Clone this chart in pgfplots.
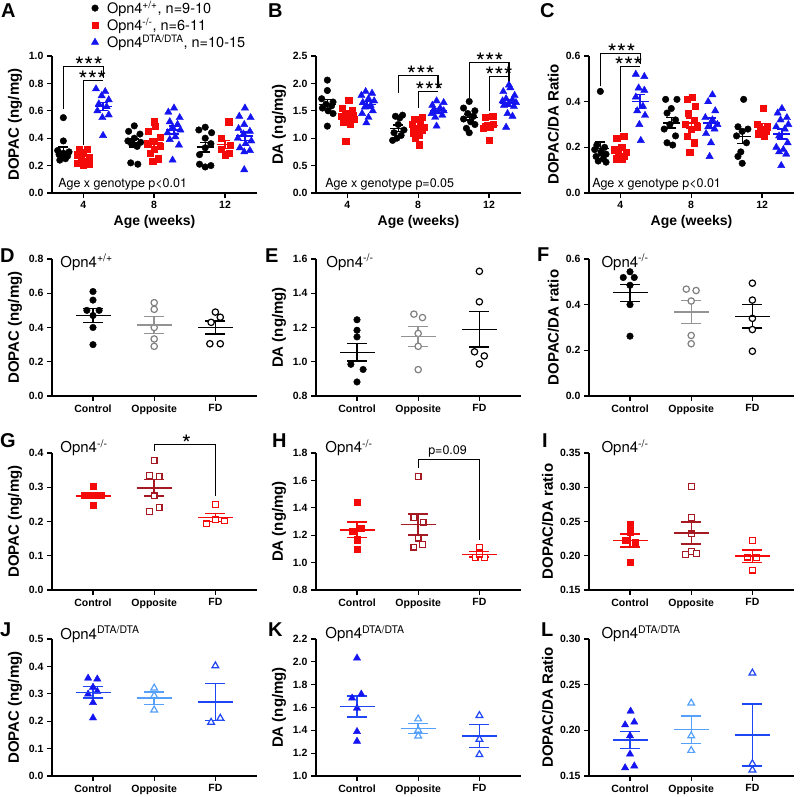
\documentclass[border=0pt]{standalone}
\usepackage{fontspec}
\setmainfont{Liberation Sans}
\newfontfamily\rf{TeX Gyre Heros}
\usepackage{pgfplots}
\pgfplotsset{compat=1.18}
\definecolor{cred}{RGB}{245,10,10}
\definecolor{cblue}{RGB}{20,20,240}
\definecolor{cdred}{RGB}{165,25,35}
\definecolor{clblue}{RGB}{85,160,250}
\definecolor{cgray}{RGB}{128,128,128}
\definecolor{cmblue}{RGB}{30,70,245}
\pgfplotsset{
 base/.style={scale only axis, width=205pt, height=137pt, anchor=south west, clip=false,
  axis x line*=bottom, axis y line*=left,
  axis line style={line width=1.3pt},
  tick style={line width=1.3pt, black},
  major tick length=5pt, tick align=outside,
  tick label style={font=\bfseries\fontsize{10.5}{12}\selectfont},
  ylabel style={font=\bfseries\fontsize{15}{17}\selectfont},
  xlabel style={font=\bfseries\fontsize{14}{16}\selectfont},
  /pgf/number format/assume math mode=true,
  scaled y ticks=false,
  yticklabel style={/pgf/number format/fixed, /pgf/number format/fixed zerofill, /pgf/number format/precision=1},
 },
 ageax/.style={base, xmin=-0.44, xmax=2.45, xtick={0,1,2}, xticklabels={\textbf{4},\textbf{8},\textbf{12}}, xlabel={Age (weeks)}},
 trtax/.style={base, xmin=-0.67, xmax=2.68, xtick={0,1,2}, xticklabels={\textbf{Control},\textbf{Opposite},\textbf{FD}}},
 msA/.style={forget plot, color=#1, only marks, mark=-, mark size=8.5pt, mark options={line width=1.3pt, #1}, error bars/.cd, y dir=both, y explicit, error bar style={line width=1.3pt, #1}, error mark options={rotate=90, mark size=5pt, line width=1.3pt, #1}},
 msD/.style={forget plot, color=#1, only marks, mark=-, mark size=17.5pt, mark options={line width=1.4pt, #1}, error bars/.cd, y dir=both, y explicit, error bar style={line width=1.4pt, #1}, error mark options={rotate=90, mark size=10pt, line width=1.4pt, #1}},
 bk/.style={only marks, mark=*, mark size=3.3pt, black, mark options={draw=black, fill=black}},
 rd/.style={only marks, mark=square*, mark size=3.1pt, cred, mark options={draw=cred, fill=cred}},
 bl/.style={only marks, mark=triangle*, mark size=4.2pt, cblue, mark options={draw=cblue, fill=cblue}},
 opc/.style={only marks, mark=*, mark size=3.2pt, #1, mark options={draw=#1, fill=white, line width=1.2pt}},
 ops/.style={only marks, mark=square*, mark size=2.9pt, #1, mark options={draw=#1, fill=white, line width=1.2pt}},
 opt/.style={only marks, mark=triangle*, mark size=3.9pt, #1, mark options={draw=#1, fill=white, line width=1.2pt}},
}
\newcommand{\stars}[3]{\node[anchor=base, font=\rf\fontsize{24}{24}\selectfont, inner sep=0, yshift=-8pt] at (axis cs:#1,#2) {#3};}
\newcommand{\lgf}{\rf\fontsize{14.5}{16.5}\selectfont}
\newcommand{\ttl}[3]{\node[anchor=base west, font=\rf\fontsize{15}{17}\selectfont, inner sep=0] at (rel axis cs:#1,#2) {#3};}
\newcommand{\agx}[2]{\node[anchor=west, font=\rf\fontsize{12.5}{14}\selectfont, inner sep=0] at (rel axis cs:#1,0.065) {#2};}
\begin{document}
\begin{tikzpicture}
\path[use as bounding box] (0,0) rectangle (800pt,797pt);
\tikzset{plab/.style={anchor=base west, font=\bfseries\fontsize{20}{20}\selectfont, inner sep=0}}
\node[plab] at (1pt,779pt) {A};
\node[plab] at (268pt,779pt) {B};
\node[plab] at (540pt,779pt) {C};
\node[plab] at (0pt,534pt) {D};
\node[plab] at (265pt,534pt) {E};
\node[plab] at (537pt,535pt) {F};
\node[plab] at (0pt,349pt) {G};
\node[plab] at (272pt,349pt) {H};
\node[plab] at (542pt,349pt) {I};
\node[plab] at (0pt,160pt) {J};
\node[plab] at (268pt,160pt) {K};
\node[plab] at (541pt,160pt) {L};

% ---------------- A
\begin{axis}[ageax, at={(52pt,604pt)}, ymin=0, ymax=1.0, ytick={0,0.2,0.4,0.6,0.8,1.0}, ylabel={DOPAC (ng/mg)},
 legend style={at={(0.165,1.41)}, anchor=north west, draw=none, fill=none, inner sep=0pt, row sep=1pt, font=\lgf, nodes={inner sep=1pt}},
 legend cell align=left,
 legend image code/.code={\path[draw=none,fill=none] (0pt,-3pt) rectangle (20pt,3pt); \draw[#1] plot coordinates {(9pt,0pt)};}]
\addplot[bk] coordinates {(-0.28,0.55) (-0.28,0.38) (-0.36,0.31) (-0.20,0.30) (-0.28,0.29) (-0.34,0.28) (-0.22,0.27) (-0.30,0.26) (-0.25,0.25) (-0.33,0.24)
 (0.72,0.49) (0.64,0.45) (0.80,0.43) (0.72,0.40) (0.63,0.38) (0.81,0.37) (0.68,0.36) (0.76,0.34) (0.67,0.22) (0.77,0.21)
 (1.72,0.48) (1.63,0.46) (1.81,0.44) (1.72,0.40) (1.80,0.36) (1.72,0.33) (1.64,0.28) (1.64,0.21) (1.80,0.20) (1.72,0.19)};
\addlegendentry{\lgf Opn4\textsuperscript{+/+}, n=9-10}
\addplot[rd] coordinates {(-0.06,0.32) (0.06,0.32) (0,0.30) (-0.09,0.28) (0.08,0.26) (-0.03,0.25) (0.05,0.23) (-0.08,0.22) (0.09,0.21) (0,0.20)
 (1,0.52) (1.02,0.49) (0.92,0.45) (1.08,0.41) (1,0.38) (0.91,0.36) (1.09,0.34) (1,0.32) (0.94,0.29) (1.06,0.25) (0.98,0.23)
 (2.05,0.52) (1.94,0.40) (2.07,0.35) (1.95,0.32) (2.06,0.29) (2,0.28)};
\addlegendentry{\lgf Opn4\textsuperscript{-/-}, n=6-11}
\addplot[bl] coordinates {(0.18,0.76) (0.31,0.74) (0.26,0.71) (0.36,0.68) (0.22,0.65) (0.33,0.63) (0.20,0.60) (0.36,0.57) (0.27,0.55) (0.28,0.42)
 (1.28,0.62) (1.20,0.59) (1.36,0.55) (1.22,0.52) (1.33,0.50) (1.26,0.48) (1.37,0.46) (1.19,0.44) (1.30,0.41) (1.22,0.39) (1.35,0.35) (1.26,0.24)
 (2.28,0.62) (2.20,0.56) (2.36,0.55) (2.27,0.50) (2.19,0.47) (2.35,0.45) (2.26,0.43) (2.18,0.40) (2.37,0.38) (2.29,0.36) (2.21,0.33) (2.35,0.31) (2.27,0.30) (2.27,0.17)};
\addlegendentry{\lgf Opn4\textsuperscript{DTA/DTA}, n=10-15}
\addplot[msA=black] coordinates {(-0.28,0.305) +- (0,0.03) (0.72,0.365) +- (0,0.03) (1.72,0.335) +- (0,0.035)};
\addplot[msA=cred] coordinates {(0,0.265) +- (0,0.015) (1,0.365) +- (0,0.03) (2,0.355) +- (0,0.03)};
\addplot[msA=cblue] coordinates {(0.28,0.63) +- (0,0.03) (1.28,0.46) +- (0,0.03) (2.28,0.415) +- (0,0.03)};
\draw[line width=1.1pt] (axis cs:-0.28,0.61) -- (axis cs:-0.28,0.92) -- (axis cs:0.28,0.92) -- (axis cs:0.28,0.84);
\draw[line width=1.1pt] (axis cs:0,0.35) -- (axis cs:0,0.82) -- (axis cs:0.28,0.82);
\stars{0.08}{0.92}{***}
\stars{0.13}{0.82}{***}
\agx{0.03}{Age x genotype p<0.01}
\end{axis}

% ---------------- B
\begin{axis}[ageax, at={(316pt,604pt)}, ymin=0, ymax=2.5, ytick={0,0.5,1.0,1.5,2.0,2.5}, ylabel={DA (ng/mg)}]
\addplot[bk] coordinates {(-0.28,2.06) (-0.28,1.87) (-0.36,1.72) (-0.20,1.66) (-0.30,1.62) (-0.22,1.59) (-0.35,1.55) (-0.27,1.50) (-0.20,1.45) (-0.28,1.22)
 (0.78,1.42) (0.68,1.40) (0.74,1.37) (0.72,1.25) (0.80,1.15) (0.66,1.10) (0.76,1.05) (0.70,1.00) (0.64,0.96)
 (1.72,1.67) (1.64,1.55) (1.80,1.50) (1.70,1.45) (1.78,1.40) (1.64,1.35) (1.74,1.30) (1.80,1.25) (1.68,1.18) (1.72,1.10)};
\addplot[rd] coordinates {(0.02,1.70) (-0.07,1.55) (0.07,1.50) (-0.03,1.45) (0.08,1.42) (-0.08,1.40) (0.02,1.38) (0.09,1.35) (-0.06,1.30) (0.04,1.25) (-0.02,0.95)
 (1.06,1.38) (0.95,1.35) (1.03,1.30) (0.92,1.25) (1.08,1.20) (0.98,1.18) (1.05,1.15) (0.93,1.10) (1.02,1.05) (0.96,1.00) (1.02,0.88)
 (2.05,1.40) (1.94,1.38) (2.06,1.25) (1.95,1.22) (2.02,1.20) (1.92,1.18) (2.0,0.96)};
\addplot[bl] coordinates {(0.26,1.85) (0.35,1.82) (0.20,1.78) (0.30,1.72) (0.38,1.68) (0.22,1.65) (0.33,1.60) (0.25,1.57) (0.36,1.50) (0.21,1.45) (0.30,1.38) (0.27,1.28)
 (1.26,1.68) (1.36,1.65) (1.20,1.60) (1.31,1.55) (1.22,1.52) (1.36,1.50) (1.28,1.48) (1.19,1.45) (1.34,1.42) (1.24,1.38) (1.26,1.22)
 (2.28,1.97) (2.30,1.92) (2.20,1.85) (2.36,1.78) (2.24,1.72) (2.33,1.70) (2.19,1.68) (2.38,1.65) (2.27,1.62) (2.21,1.60) (2.35,1.58) (2.26,1.45) (2.33,1.40) (2.24,1.20)};
\addplot[msA=black] coordinates {(-0.28,1.62) +- (0,0.08) (0.72,1.18) +- (0,0.06) (1.72,1.38) +- (0,0.05)};
\addplot[msA=cred] coordinates {(0,1.39) +- (0,0.06) (1,1.17) +- (0,0.05) (2,1.23) +- (0,0.05)};
\addplot[msA=cblue] coordinates {(0.28,1.61) +- (0,0.06) (1.28,1.50) +- (0,0.04) (2.28,1.64) +- (0,0.06)};
\draw[line width=1.1pt] (axis cs:0.72,1.83) -- (axis cs:0.72,2.14) -- (axis cs:1.28,2.14) -- (axis cs:1.28,1.92);
\draw[line width=1.1pt] (axis cs:1,1.56) -- (axis cs:1,1.86) -- (axis cs:1.28,1.86);
\draw[line width=1.1pt] (axis cs:1.72,1.74) -- (axis cs:1.72,2.38) -- (axis cs:2.28,2.38) -- (axis cs:2.28,2.0);
\draw[line width=1.1pt] (axis cs:2,1.50) -- (axis cs:2,2.12) -- (axis cs:2.28,2.12);
\stars{1.04}{2.14}{***}
\stars{1.16}{1.86}{***}
\stars{2.01}{2.38}{***}
\stars{2.14}{2.12}{***}
\agx{0.045}{Age x genotype p=0.05}
\end{axis}

% ---------------- C
\begin{axis}[ageax, at={(589pt,604pt)}, ymin=0, ymax=0.6, ytick={0,0.2,0.4,0.6}, ylabel={DOPAC/DA Ratio}]
\addplot[bk] coordinates {(-0.28,0.445) (-0.33,0.21) (-0.22,0.20) (-0.36,0.19) (-0.27,0.18) (-0.20,0.17) (-0.34,0.16) (-0.24,0.15) (-0.31,0.14) (-0.20,0.135)
 (0.64,0.41) (0.80,0.41) (0.72,0.37) (0.66,0.35) (0.78,0.32) (0.70,0.30) (0.62,0.28) (0.78,0.25) (0.66,0.22) (0.74,0.21)
 (1.74,0.41) (1.66,0.29) (1.80,0.28) (1.72,0.27) (1.64,0.25) (1.78,0.22) (1.70,0.18) (1.66,0.16) (1.72,0.13)};
\addplot[rd] coordinates {(0.05,0.25) (-0.05,0.24) (0.02,0.20) (-0.08,0.19) (0.08,0.18) (-0.03,0.17) (0.06,0.16) (-0.06,0.15) (0.03,0.15)
 (1.02,0.42) (0.94,0.41) (1.06,0.38) (0.96,0.35) (1.04,0.32) (0.92,0.30) (1.08,0.29) (1.0,0.28) (0.94,0.25) (1.04,0.22) (0.98,0.18)
 (2.02,0.37) (1.93,0.30) (2.07,0.29) (1.98,0.28) (2.05,0.27) (1.94,0.26) (2.03,0.25)};
\addplot[bl] coordinates {(0.22,0.52) (0.34,0.51) (0.26,0.46) (0.34,0.45) (0.22,0.42) (0.32,0.38) (0.24,0.36) (0.35,0.34) (0.27,0.30) (0.29,0.23)
 (1.30,0.43) (1.24,0.40) (1.34,0.36) (1.20,0.33) (1.30,0.32) (1.37,0.30) (1.24,0.29) (1.33,0.28) (1.21,0.26) (1.28,0.22) (1.26,0.16)
 (2.28,0.37) (2.22,0.35) (2.35,0.33) (2.26,0.32) (2.37,0.30) (2.20,0.29) (2.32,0.28) (2.24,0.25) (2.36,0.22) (2.20,0.20) (2.30,0.19) (2.24,0.18) (2.34,0.17) (2.27,0.12)};
\addplot[msA=black] coordinates {(-0.28,0.195) +- (0,0.028) (0.72,0.307) +- (0,0.023) (1.72,0.248) +- (0,0.03)};
\addplot[msA=cred] coordinates {(0,0.185) +- (0,0.012) (1,0.307) +- (0,0.022) (2,0.29) +- (0,0.014)};
\addplot[msA=cblue] coordinates {(0.28,0.40) +- (0,0.03) (1.28,0.307) +- (0,0.022) (2.28,0.258) +- (0,0.022)};
\draw[line width=1.1pt] (axis cs:-0.28,0.467) -- (axis cs:-0.28,0.61) -- (axis cs:0.28,0.61) -- (axis cs:0.28,0.566);
\draw[line width=1.1pt] (axis cs:0,0.267) -- (axis cs:0,0.555) -- (axis cs:0.28,0.555);
\stars{0.02}{0.61}{***}
\stars{0.12}{0.555}{***}
\agx{0.015}{Age x genotype p<0.01}
\end{axis}

% ---------------- D
\begin{axis}[trtax, at={(52pt,401pt)}, ymin=0, ymax=0.8, ytick={0,0.2,0.4,0.6,0.8}, ylabel={DOPAC (ng/mg)}]
\addplot[bk] coordinates {(0,0.61) (0,0.56) (-0.1,0.50) (0.1,0.50) (0,0.47) (0,0.40) (0,0.30)};
\addplot[opc=cgray] coordinates {(1,0.545) (1,0.506) (1,0.40) (1,0.333) (1,0.29)};
\addplot[opc=black] coordinates {(2,0.49) (2.08,0.46) (1.93,0.43) (1.91,0.305) (2.08,0.305)};
\addplot[msD=black] coordinates {(0,0.47) +- (0,0.041)};
\addplot[msD=cgray!85!white] coordinates {(1,0.414) +- (0,0.05)};
\addplot[msD=black] coordinates {(2,0.40) +- (0,0.039)};
\ttl{0.04}{0.94}{Opn4\textsuperscript{+/+}}
\end{axis}

% ---------------- E
\begin{axis}[trtax, at={(316pt,401pt)}, ymin=0.8, ymax=1.6, ytick={0.8,1.0,1.2,1.4,1.6}, ylabel={DA (ng/mg)}]
\addplot[bk] coordinates {(0,1.245) (0,1.184) (0,1.145) (-0.1,0.985) (0.1,0.955) (0,0.882)};
\addplot[opc=cgray] coordinates {(0.93,1.278) (1.07,1.258) (1,1.165) (1,1.09) (1,0.954)};
\addplot[opc=black] coordinates {(2,1.528) (2,1.35) (1.92,1.058) (2.08,1.034) (2,0.987)};
\addplot[msD=black] coordinates {(0,1.055) +- (0,0.05)};
\addplot[msD=cgray!85!white] coordinates {(1,1.148) +- (0,0.059)};
\addplot[msD=black] coordinates {(2,1.19) +- (0,0.104)};
\ttl{0.05}{0.94}{Opn4\textsuperscript{-/-}}
\end{axis}

% ---------------- F
\begin{axis}[trtax, at={(589pt,401pt)}, ymin=0, ymax=0.6, ytick={0,0.2,0.4,0.6}, ylabel={DOPAC/DA ratio}]
\addplot[bk] coordinates {(0,0.544) (-0.11,0.519) (0.07,0.519) (0,0.485) (0,0.40) (0,0.262)};
\addplot[opc=cgray] coordinates {(0.92,0.468) (1.08,0.462) (1,0.416) (1,0.265) (1,0.229)};
\addplot[opc=black] coordinates {(2,0.494) (2,0.42) (2,0.34) (2,0.291) (2,0.196)};
\addplot[msD=black] coordinates {(0,0.452) +- (0,0.037)};
\addplot[msD=cgray!85!white] coordinates {(1,0.368) +- (0,0.051)};
\addplot[msD=black] coordinates {(2,0.349) +- (0,0.052)};
\ttl{0.06}{0.94}{Opn4\textsuperscript{-/-}}
\end{axis}

% ---------------- G
\begin{axis}[trtax, at={(52pt,207pt)}, ymin=0, ymax=0.4, ytick={0,0.1,0.2,0.3,0.4}, ylabel={DOPAC (ng/mg)}]
\addplot[rd] coordinates {(0,0.304) (-0.14,0.277) (-0.05,0.277) (0.05,0.277) (0.14,0.277) (0,0.248)};
\addplot[ops=cdred] coordinates {(1,0.378) (0.92,0.335) (1.08,0.331) (1,0.275) (1.08,0.241) (0.92,0.229)};
\addplot[ops=cred] coordinates {(2,0.249) (2,0.205) (1.85,0.193) (2.15,0.202)};
\addplot[msD=cred] coordinates {(0,0.275) +- (0,0.005)};
\addplot[msD=cdred] coordinates {(1,0.298) +- (0,0.024)};
\addplot[msD=cred] coordinates {(2,0.212) +- (0,0.012)};
\draw[line width=1.1pt] (axis cs:1,0.405) -- (axis cs:1,0.426) -- (axis cs:2,0.426) -- (axis cs:2,0.275);
\stars{1.53}{0.426}{*}
\ttl{0.04}{1.0}{Opn4\textsuperscript{-/-}}
\end{axis}

% ---------------- H
\begin{axis}[trtax, at={(316pt,207pt)}, ymin=0.8, ymax=1.8, ytick={0.8,1.0,1.2,1.4,1.6,1.8}, ylabel={DA (ng/mg)}]
\addplot[rd] coordinates {(0,1.442) (0.07,1.253) (-0.08,1.229) (0,1.167) (0,1.10)};
\addplot[ops=cdred] coordinates {(1,1.627) (0.93,1.328) (1.08,1.295) (1,1.179) (1.07,1.134) (0.93,1.113)};
\addplot[ops=cred] coordinates {(2,1.113) (1.93,1.037) (2.08,1.037) (2,1.062)};
\addplot[msD=cred] coordinates {(0,1.238) +- (0,0.057)};
\addplot[msD=cdred] coordinates {(1,1.279) +- (0,0.077)};
\addplot[msD=cred] coordinates {(2,1.06) +- (0,0.02)};
\draw[line width=1.1pt] (axis cs:1,1.693) -- (axis cs:1,1.753) -- (axis cs:2,1.753) -- (axis cs:2,1.167);
\node[anchor=south, font=\rf\fontsize{12.5}{14}\selectfont, inner sep=0, yshift=2pt] at (axis cs:1.48,1.753) {p=0.09};
\ttl{0.045}{1.0}{Opn4\textsuperscript{-/-}}
\end{axis}

% ---------------- I
\begin{axis}[trtax, at={(589pt,207pt)}, ymin=0.15, ymax=0.35, ytick={0.15,0.20,0.25,0.30,0.35}, ylabel={DOPAC/DA ratio},
 yticklabel style={/pgf/number format/precision=2}]
\addplot[rd] coordinates {(0,0.246) (0,0.235) (-0.08,0.223) (0.08,0.22) (0,0.19)};
\addplot[ops=cdred] coordinates {(1,0.301) (1,0.256) (1,0.232) (1,0.206) (0.91,0.202) (1.09,0.203)};
\addplot[ops=cred] coordinates {(2,0.222) (1.92,0.198) (2.07,0.197) (2,0.179)};
\addplot[msD=cred] coordinates {(0,0.2225) +- (0,0.0095)};
\addplot[msD=cdred] coordinates {(1,0.2333) +- (0,0.016)};
\addplot[msD=cred] coordinates {(2,0.1995) +- (0,0.009)};
\ttl{0.06}{1.0}{Opn4\textsuperscript{-/-}}
\end{axis}

% ---------------- J
\begin{axis}[trtax, at={(52pt,21pt)}, ymin=0, ymax=0.5, ytick={0,0.1,0.2,0.3,0.4,0.5}, ylabel={DOPAC (ng/mg)}]
\addplot[bl] coordinates {(-0.08,0.357) (0.07,0.354) (0,0.324) (0.07,0.309) (-0.08,0.299) (0,0.268) (0,0.212)};
\addplot[opt=clblue] coordinates {(1,0.321) (1,0.293) (1,0.241)};
\addplot[opt=cmblue] coordinates {(2,0.402) (2.08,0.211) (1.93,0.196)};
\addplot[msD=cmblue] coordinates {(0,0.305) +- (0,0.021)};
\addplot[msD=clblue] coordinates {(1,0.284) +- (0,0.023)};
\addplot[msD=cmblue] coordinates {(2,0.27) +- (0,0.067)};
\ttl{0.04}{1.0}{Opn4\textsuperscript{DTA/DTA}}
\end{axis}

% ---------------- K
\begin{axis}[trtax, at={(316pt,21pt)}, ymin=1.0, ymax=2.2, ytick={1.0,1.2,1.4,1.6,1.8,2.0,2.2}, ylabel={DA (ng/mg)}]
\addplot[bl] coordinates {(0,2.033) (0.07,1.717) (-0.08,1.682) (0,1.594) (0,1.389) (0,1.304)};
\addplot[opt=clblue] coordinates {(1,1.50) (1,1.40) (1,1.35)};
\addplot[opt=cmblue] coordinates {(2,1.53) (2,1.322) (2,1.187)};
\addplot[msD=cmblue] coordinates {(0,1.609) +- (0,0.091)};
\addplot[msD=clblue] coordinates {(1,1.416) +- (0,0.043)};
\addplot[msD=cmblue] coordinates {(2,1.349) +- (0,0.10)};
\ttl{0.045}{1.0}{Opn4\textsuperscript{DTA/DTA}}
\end{axis}

% ---------------- L
\begin{axis}[trtax, at={(589pt,21pt)}, ymin=0.15, ymax=0.30, ytick={0.15,0.20,0.25,0.30}, ylabel={DOPAC/DA Ratio},
 yticklabel style={/pgf/number format/precision=2}]
\addplot[bl] coordinates {(0.01,0.221) (0.07,0.209) (-0.08,0.206) (0,0.194) (0,0.174) (0.07,0.161) (-0.08,0.159)};
\addplot[opt=clblue] coordinates {(1,0.2298) (1,0.194) (1,0.178)};
\addplot[opt=cmblue] coordinates {(2,0.2627) (2,0.1635) (2,0.1566)};
\addplot[msD=cmblue] coordinates {(0,0.1895) +- (0,0.0095)};
\addplot[msD=clblue] coordinates {(1,0.2007) +- (0,0.015)};
\addplot[msD=cmblue] coordinates {(2,0.195) +- (0,0.034)};
\ttl{0.06}{1.0}{Opn4\textsuperscript{DTA/DTA}}
\end{axis}
\end{tikzpicture}
\end{document}
